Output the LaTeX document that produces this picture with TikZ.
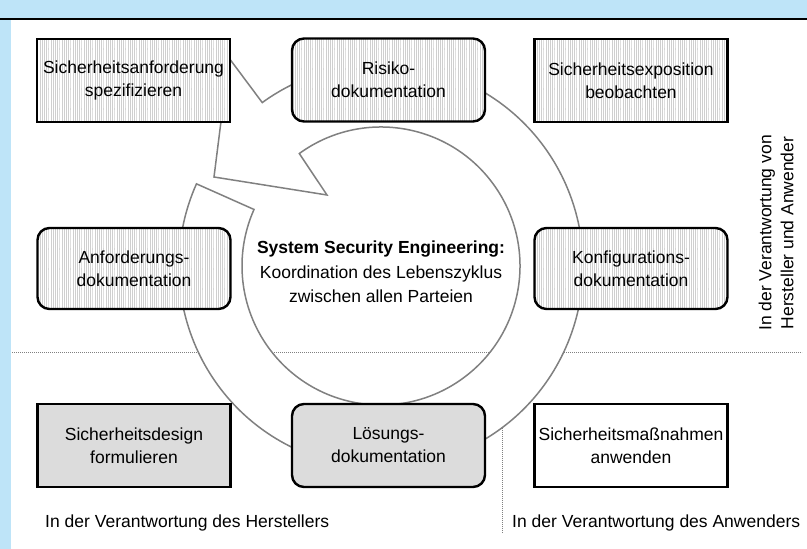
\documentclass[tikz,border=0pt]{standalone}
\usepackage{fontspec}
\setmainfont{Liberation Sans}
\usetikzlibrary{patterns}

% fine vertical stripes used as the hatch inside the document boxes
\pgfdeclarepatternformonly{vstripes}{\pgfqpoint{0pt}{-1pt}}{\pgfqpoint{2.2pt}{21pt}}{\pgfqpoint{2.2pt}{20pt}}%
  {\pgfpathrectangle{\pgfqpoint{0pt}{-1pt}}{\pgfqpoint{0.7pt}{22pt}}\pgfusepath{fill}}

\definecolor{bandblue}{RGB}{190,228,248}
\definecolor{ringgray}{RGB}{128,128,128}
\definecolor{boxgray}{RGB}{220,220,220}

\tikzset{
  lbl/.style={font=\fontsize{17.5}{23}\selectfont, align=center, inner sep=0pt},
  card/.style={lbl, draw=black, line width=2.4pt, minimum width=193pt, minimum height=83pt},
  roundcard/.style={card, rounded corners=12pt},
  hatched/.style={preaction={fill=white}, pattern=vstripes, pattern color=gray!38},
  shaded/.style={fill=boxgray},
  plain/.style={fill=white},
  sep/.style={draw=gray, line width=0.7pt, dash pattern=on 0.9pt off 1.1pt},
  ring/.style={draw=ringgray, fill=white, line width=1.5pt, line join=miter},
}

\begin{document}
\begin{tikzpicture}[x=1pt,y=1pt]
\useasboundingbox (0,0) rectangle (807,549);
\fill[white] (0,0) rectangle (807,549);

% frame: blue bands on top and left, rule under the top band
\fill[bandblue] (0,531) rectangle (807,549);
\fill[bandblue] (0,0) rectangle (11,531);
\draw[line width=1.2pt] (0,530) -- (807,530);

% responsibility separators
\coordinate (hl) at (12,197);
\coordinate (hr) at (802,197);
\coordinate (vt) at (502,197);
\coordinate (vb) at (502,16);
\draw[sep] (hl) -- (hr);
\draw[sep] (vt) -- (vb);

% life-cycle ring with its arrow head
\coordinate (c) at (381,283);
\coordinate (tip) at (229,491);
\coordinate (barbL) at (214,372);
\coordinate (barbR) at (327,354);
\draw[ring] (c) ++(156:202pt) arc[start angle=156, end angle=486, radius=202pt]
  -- (tip) -- (barbL) -- (barbR) -- ([shift={(126:139pt)}]c)
  arc[start angle=126, end angle=-204, radius=139pt] -- cycle;

% centre text
\node[lbl, font=\fontsize{17.5}{24.5}\selectfont] (core) at (381,277)
  {\textbf{System Security Engineering:}\\Koordination des Lebenszyklus\\zwischen allen Parteien};

% top row
\node[card, hatched] (spec) at (133.5,468.5) {Sicherheitsanforderung\\spezifizieren};
\node[roundcard, hatched] (risk) at (388.5,469) {Risiko-\\dokumentation};
\node[card, hatched] (expo) at (631,468.5) {Sicherheitsexposition\\beobachten};

% middle row
\node[roundcard, hatched, minimum height=81pt] (req) at (134,280.5) {Anforderungs-\\dokumentation};
\node[roundcard, hatched, minimum height=81pt] (conf) at (631,280.5) {Konfigurations-\\dokumentation};

% bottom row
\node[card, shaded] (design) at (134,103.5) {Sicherheitsdesign\\formulieren};
\node[roundcard, shaded] (sol) at (388.5,103.5) {Lösungs-\\dokumentation};
\node[card, plain] (apply) at (631,103.5) {Sicherheitsmaßnahmen\\anwenden};

% responsibility labels
\node[lbl, anchor=base west] (mfr) at (45,21) {In der Verantwortung des Herstellers};
\node[lbl, anchor=base west] (usr) at (512,21) {In der Verantwortung des Anwenders};
\node[lbl, font=\fontsize{17.5}{22}\selectfont, rotate=90] (both) at (776,316)
  {In der Verantwortung von\\Hersteller und Anwender};
\end{tikzpicture}
\end{document}
